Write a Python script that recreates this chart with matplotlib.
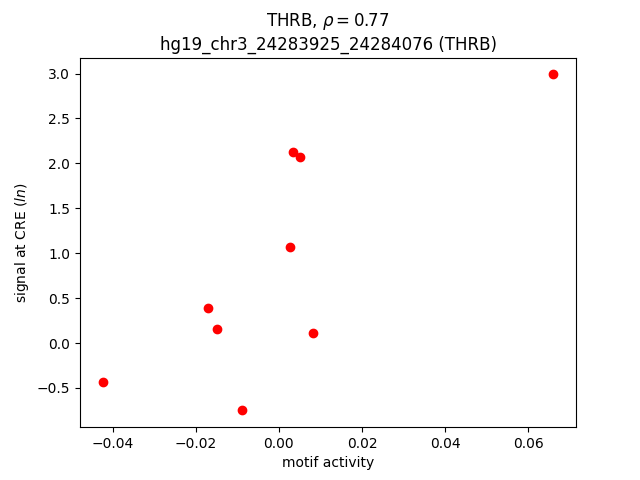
import matplotlib
matplotlib.use("Agg")
import matplotlib.pyplot as plt

# motif activity vs CRE signal
motif_activity = [0.0660, 0.0034, 0.0051, 0.0027, -0.0171, -0.0149, 0.0082, -0.0424, -0.0089]
cre_signal = [2.99, 2.13, 2.07, 1.07, 0.39, 0.16, 0.11, -0.43, -0.75]

gene = "THRB"
rho = 0.77
region = "hg19_chr3_24283925_24284076"

fig, ax = plt.subplots(figsize=(6.4, 4.8), dpi=100)
ax.scatter(motif_activity, cre_signal, c="red")
ax.set_title(gene + r", $\rho = $" + f"${rho:.2f}$" + "\n" + f"{region} ({gene})")
ax.set_xlabel("motif activity")
ax.set_ylabel(r"signal at CRE ($ln$)")

fig.savefig("out.png")
